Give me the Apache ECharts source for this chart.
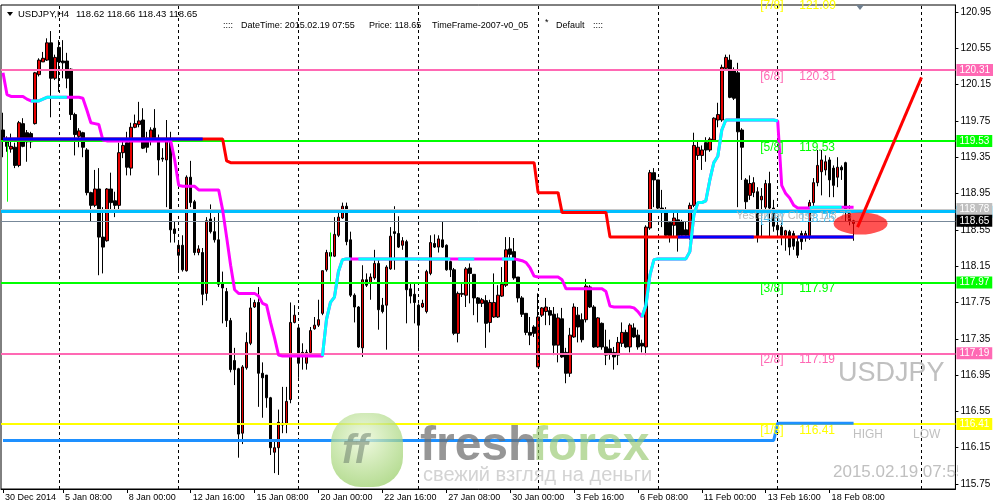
<!DOCTYPE html>
<html><head><meta charset="utf-8">
<script src="https://cdn.jsdelivr.net/npm/echarts@6/dist/echarts.min.js"></script>
<style>html,body{margin:0;padding:0;background:#fff}#c{width:994px;height:503px}</style>
</head><body><div id="c"></div>
<script>
// ---------------- DATA ----------------
const opens = [119.65,119.54,119.44,119.46,119.26,119.72,119.62,119.61,119.72,120.26,
120.40,120.42,120.61,120.22,120.56,120.41,120.41,120.32,119.82,119.58,
119.62,119.43,118.96,118.82,119.00,118.47,118.43,119.00,118.87,118.82,
119.40,119.51,119.23,119.68,119.71,119.76,119.56,119.54,119.67,119.56,
119.34,119.32,119.52,118.56,118.27,118.38,118.10,119.13,118.86,118.30,
118.30,117.85,118.67,118.53,118.44,117.97,117.87,117.55,117.11,117.02,
116.31,117.03,117.30,117.70,117.75,116.97,116.95,116.70,116.10,116.15,
116.40,116.41,116.68,117.53,117.47,117.20,117.08,117.20,117.46,117.50,
117.63,118.11,118.30,118.26,118.49,118.68,118.81,118.44,117.83,117.70,
117.25,118.00,117.97,118.02,118.18,117.72,117.72,118.12,118.53,118.51,
118.38,118.42,117.90,117.84,117.72,117.70,117.65,118.07,118.40,118.36,
118.44,118.38,118.20,118.11,117.41,117.84,117.83,118.13,118.06,117.80,
117.74,117.77,117.53,117.59,117.59,117.82,117.94,118.34,118.31,118.03,
117.80,117.63,117.42,117.48,117.04,117.61,117.65,117.66,117.62,117.28,
117.57,117.20,116.97,117.37,117.61,117.56,117.56,117.92,117.70,117.26,
117.52,117.26,117.24,117.20,117.17,117.30,117.42,117.26,117.47,117.39,
117.30,117.26,118.57,119.18,119.10,118.79,118.77,118.63,118.60,118.66,
118.64,118.55,118.47,118.82,119.37,119.37,119.51,119.43,119.54,119.76,
119.76,120.33,120.42,120.31,120.28,119.65,119.10,118.93,118.96,118.97,
118.88,118.80,119.06,118.79,118.60,118.58,118.49,118.53,118.51,118.42,
118.51,118.47,118.47,118.85,119.07,119.19,119.21,119.32,119.23,119.13,
119.24,119.29,118.77,118.62];
const closes = [119.54,119.47,119.47,119.26,119.73,119.47,119.52,119.52,120.28,120.42,
120.44,120.61,120.22,120.45,120.40,120.39,120.22,119.82,119.60,119.64,
119.46,118.96,118.82,119.00,118.47,118.36,119.00,118.85,118.82,119.40,
119.48,119.24,119.68,119.72,119.75,119.45,119.46,119.65,119.56,119.32,
119.33,119.52,118.55,118.51,118.38,118.11,119.13,118.85,118.30,118.34,
117.84,118.65,118.53,118.44,117.95,117.91,117.55,117.01,117.01,116.30,
117.04,117.31,117.69,117.75,116.97,116.92,116.70,116.15,116.15,116.43,
116.42,116.66,117.53,117.61,117.08,117.17,117.20,117.44,117.50,117.56,
118.10,118.30,118.26,118.50,118.69,118.81,118.42,117.83,117.70,117.26,
118.00,117.94,118.03,118.18,117.67,117.65,118.14,118.48,118.51,118.36,
118.43,117.89,117.82,117.75,117.50,117.74,118.09,118.41,118.36,118.45,
118.36,118.11,118.11,117.41,117.85,117.85,118.12,118.07,117.80,117.74,
117.78,117.52,117.75,117.75,117.83,117.95,118.33,118.28,118.02,117.80,
117.62,117.42,117.39,117.41,117.59,117.69,117.70,117.61,117.28,117.58,
117.15,116.97,117.39,117.70,117.48,117.34,117.93,117.70,117.26,117.58,
117.26,117.17,117.19,117.15,117.31,117.42,117.26,117.50,117.37,117.26,
117.27,118.58,119.18,119.10,118.79,118.74,118.49,118.47,118.68,118.47,
118.49,118.49,118.82,119.48,119.46,119.43,119.43,119.55,119.78,119.82,
120.34,120.45,120.01,120.00,119.63,119.46,118.86,119.06,119.07,118.47,
118.92,119.06,118.79,118.59,118.55,118.49,118.54,118.36,118.37,118.27,
118.42,118.51,118.85,119.07,119.26,119.32,119.30,119.10,119.04,119.24,
119.21,118.77,118.65,118.65];
const lows = [119.35,119.41,119.40,119.23,119.24,119.46,119.30,119.45,119.71,120.24,
120.40,120.41,119.79,120.20,120.07,120.22,120.11,119.76,119.37,119.46,
119.35,118.93,118.64,118.80,118.05,118.07,118.42,118.75,118.69,118.77,
119.34,119.15,119.15,119.67,119.68,119.44,119.40,119.48,119.54,119.15,
119.30,118.80,118.41,118.41,118.09,118.09,118.09,118.80,118.27,118.27,
117.72,117.77,118.51,118.41,117.92,117.52,117.48,116.98,116.84,116.04,
116.19,117.01,117.28,117.69,116.60,116.48,116.59,116.07,115.87,115.85,
116.31,116.31,116.64,117.52,116.92,117.01,117.01,117.17,117.45,117.48,
117.61,118.09,118.20,118.25,118.47,118.67,118.38,117.81,117.53,117.25,
117.15,117.92,117.78,118.00,117.45,117.63,117.23,118.11,118.11,118.35,
118.33,117.52,117.74,117.52,117.25,117.69,117.63,118.05,118.35,118.30,
118.35,118.10,118.03,117.39,117.31,117.81,117.70,117.74,117.61,117.53,
117.70,117.25,117.42,117.58,117.58,117.81,117.92,118.24,118.00,117.75,
117.59,117.39,117.28,117.37,117.04,117.59,117.50,117.50,117.17,117.09,
117.14,116.86,116.93,117.36,117.31,117.31,117.53,117.69,117.25,117.25,
117.23,117.06,117.12,117.01,117.06,117.26,117.25,117.20,117.36,117.23,
117.20,117.17,118.55,118.80,118.77,118.58,118.47,118.41,118.46,118.31,
118.47,118.47,118.44,118.80,119.32,119.21,119.30,119.41,119.52,119.68,
119.74,120.31,120.00,119.98,118.80,119.10,118.75,118.88,118.91,118.41,
118.47,118.77,118.47,118.53,118.49,118.38,118.32,118.27,118.33,118.24,
118.33,118.42,118.44,118.80,119.03,118.93,119.15,118.91,118.91,119.02,
119.10,118.64,118.60,118.43];
const highs = [119.84,119.58,119.61,119.51,119.75,119.78,119.65,119.63,120.29,120.44,
120.51,120.66,120.74,120.48,120.64,120.64,120.50,120.33,119.84,119.67,
119.63,119.45,118.97,119.21,119.23,118.80,119.01,119.18,118.97,119.51,
119.56,119.63,119.73,119.82,119.96,119.89,119.63,119.68,119.88,119.60,
119.45,119.76,119.63,118.64,118.42,118.49,119.15,119.31,118.88,118.38,
118.35,118.69,118.83,118.69,118.74,118.09,117.91,117.58,117.25,117.03,
117.06,117.42,117.80,117.78,117.92,117.09,116.95,116.71,116.24,116.57,
116.82,116.82,117.75,117.72,117.48,117.30,117.23,117.48,117.59,117.78,
118.10,118.33,118.40,118.69,118.74,118.85,118.85,118.53,117.85,117.71,
118.16,118.07,118.07,118.33,118.22,117.80,118.16,118.58,118.81,118.70,
118.47,118.44,117.97,117.97,117.74,117.78,118.11,118.49,118.50,118.49,
118.64,118.39,118.21,118.13,117.87,117.97,118.14,118.18,118.06,117.81,
117.80,117.83,117.78,118.07,117.94,118.14,118.47,118.47,118.46,118.03,
117.82,117.63,117.59,117.50,117.85,117.70,117.80,117.70,117.70,117.63,
117.69,117.25,117.47,117.74,117.70,117.63,118.01,117.94,117.72,117.59,
117.53,117.45,117.34,117.26,117.37,117.53,117.45,117.52,117.52,117.45,
117.34,118.60,119.21,119.23,119.10,118.99,118.80,118.64,118.74,118.74,
118.66,118.64,118.85,119.62,119.54,119.48,119.57,119.57,119.79,119.95,
120.37,120.48,120.48,120.34,120.39,119.67,119.12,119.15,119.13,119.02,
119.01,119.10,119.19,118.88,118.69,118.63,118.55,118.55,118.54,118.47,
118.54,118.54,118.88,119.12,119.43,119.43,119.37,119.35,119.26,119.35,
119.26,119.30,118.82,118.66];
// magenta/cyan trend line, one value per bar
const trendValues = [
120.28,120.04,120.02,120.02,120.02,120.02,119.99,119.97,119.97,119.97,
119.99,120.01,120.01,120.01,120.01,120.01,120.01,120.01,120.01,120.01,
120.00,119.87,119.73,119.72,119.71,119.54,119.53,119.53,119.53,119.53,
119.53,119.53,119.53,119.53,119.53,119.53,119.53,119.53,119.53,119.53,
119.53,119.53,119.53,119.32,119.04,119.03,119.03,119.03,119.03,118.99,
118.99,118.99,118.99,118.99,118.99,118.77,118.47,118.16,117.89,117.85,
117.85,117.85,117.85,117.85,117.82,117.74,117.72,117.53,117.36,117.17,
117.16,117.16,117.16,117.16,117.16,117.16,117.16,117.16,117.16,117.16,
117.16,117.56,117.75,117.81,118.09,118.22,118.23,118.23,118.23,118.23,
118.23,118.23,118.23,118.23,118.23,118.23,118.23,118.23,118.23,118.23,
118.23,118.23,118.23,118.23,118.23,118.23,118.23,118.23,118.23,118.23,
118.23,118.23,118.23,118.23,118.23,118.23,118.23,118.23,118.23,118.23,
118.23,118.23,118.23,118.23,118.23,118.23,118.23,118.23,118.23,118.22,
118.21,118.19,118.13,118.04,118.03,118.03,118.03,118.03,118.03,118.03,
118.00,117.90,117.90,117.90,117.90,117.90,117.90,117.90,117.90,117.90,
117.90,117.87,117.71,117.70,117.70,117.70,117.70,117.70,117.69,117.65,
117.59,117.72,118.05,118.22,118.23,118.23,118.23,118.23,118.23,118.23,
118.23,118.23,118.31,118.71,118.85,118.85,118.87,119.10,119.29,119.36,
119.65,119.76,119.76,119.76,119.76,119.76,119.76,119.76,119.76,119.76,
119.76,119.76,119.76,119.76,119.75,119.04,118.95,118.90,118.82,118.79,
118.79,118.79,118.79,118.80,118.80,118.80,118.80,118.80,118.80,118.80,
118.80,118.80,118.80,118.80];
const cyanRanges = [[7,16],[80,87],[89,112],[114,118],[125,128],[160,194],[202,210]];
// red / blue stepped trail: [bar, price] break points
const trailPoints = [[0,119.55],[55,119.55],[56,119.31],[57,119.29],[133,119.29],[134,118.96],[139,118.96],[140,118.74],[151,118.74],[152,118.47],[213,118.47]];
const trailBlue = [[0,50,119.55],[169,188,118.47],[199,213,118.47]];
// dodger-blue low line
const lowPoints = [[0,116.23],[193,116.23],[194,116.42],[213,116.42]];
// thin lime signal segments [bar, top, bottom]
const signalSegs = [[1,119.51,118.86],[82,118.52,117.98]];
// Murrey math levels
const murreyLabels = ['[7/8]','[6/8]','[5/8]','[4/8]','[3/8]','[2/8]','[1/8]'];
const murreyValues = [121.09,120.31,119.53,118.75,117.97,117.19,116.41];
const yesterdayClose = 118.78;
const bidPrice = 118.65;
// user arrow
const arrowPoints = [[214,118.58],[230,120.23]];
const markerPoint = [214,118.62];
// period separators (bar index)
const separators = [14,44,74,104,134,164,194,230];
// axis ticks
const xTickIndex = [0,15,31,47,63,79,95,111,127,143,159,175,191,207];
const xTickText = ['30 Dec 2014','5 Jan 08:00','8 Jan 00:00','12 Jan 16:00','15 Jan 08:00','20 Jan 00:00','22 Jan 16:00','27 Jan 08:00','30 Jan 00:00','3 Feb 16:00','6 Feb 08:00','11 Feb 00:00','13 Feb 16:00','18 Feb 08:00'];
const yTicks = [115.75,116.15,116.55,116.95,117.35,117.75,118.15,118.55,118.95,119.35,119.75,120.15,120.55,120.95];
const barSlots = 239;

// ---------------- CHART ----------------
const F = 'Liberation Sans';
const cats = Array.from({length: barSlots}, (_, i) => String(i));
const xLabelMap = {}; xTickIndex.forEach((k, j) => xLabelMap[k] = xTickText[j]);
const candles = opens.map((o, i) => [o, closes[i], lows[i], highs[i]]);
const last = candles.length - 1;

const murreyColors = ['#ffff00','#ff69b4','#00ff00','#4cc4f4','#00ff00','#ff69b4','#ffff00'];
const cyanData = trendValues.map((v, i) => cyanRanges.some(r => i >= r[0] && i <= r[1]) ? v : null);

function levelLine(v, color, width, bg) {
  return {
    yAxis: v,
    lineStyle: {color: color, width: width, type: 'solid'},
    label: {show: true, position: 'end', distance: 1, formatter: p => Number(p.value).toFixed(2),
      backgroundColor: bg, color: '#fff', fontFamily: F, fontSize: 10, lineHeight: 12, padding: [0, 3, 0, 3]}
  };
}

const series = [
  { // separators
    type: 'line', data: [], z: 1, silent: true,
    markLine: {silent: true, symbol: 'none', animation: false, label: {show: false},
      lineStyle: {color: '#000', width: 1, type: [3, 3]},
      data: separators.map(i => ({xAxis: i}))}
  },
  {
    type: 'candlestick', data: candles, barWidth: 3, z: 3, silent: true, large: false,
    itemStyle: {color: '#e60000', color0: '#000', borderColor: '#000', borderColor0: '#000', borderWidth: 1}
  },
  { // main level lines
    type: 'line', data: [], z: 4, silent: true,
    markLine: {silent: true, symbol: 'none', animation: false, precision: 2,
      data: [
        levelLine(murreyValues[1], '#ff69b4', 2, '#ff69b4'),
        levelLine(murreyValues[2], '#00ff00', 2, '#00ff00'),
        levelLine(murreyValues[4], '#00ff00', 2, '#00ff00'),
        levelLine(murreyValues[5], '#ff69b4', 2, '#ff69b4'),
        levelLine(murreyValues[6], '#ffff00', 2, '#ffff00'),
        levelLine(murreyValues[3], '#00bfff', 3, '#00bfff')
      ]}
  },
  { // yesterday close + bid
    type: 'line', data: [], z: 5, silent: true,
    markLine: {silent: true, symbol: 'none', animation: false, precision: 2,
      data: [
        levelLine(yesterdayClose, '#c8c8c8', 1, '#c0c0c0'),
        levelLine(bidPrice, '#778899', 1, '#000000')
      ]}
  },
  { // signal segments
    type: 'line', data: [], z: 5, silent: true,
    markLine: {silent: true, symbol: 'none', animation: false, label: {show: false},
      lineStyle: {color: '#00ff00', width: 1, type: 'solid'},
      data: signalSegs.map(s => [{coord: [s[0], s[1]]}, {coord: [s[0], s[2]]}])}
  },
  {type: 'line', data: lowPoints, z: 6, symbol: 'none', silent: true, lineStyle: {color: '#1e90ff', width: 3}},
  {type: 'line', data: trailPoints, z: 6, symbol: 'none', silent: true, lineStyle: {color: '#ff0000', width: 3}},
  ...trailBlue.map(b => ({type: 'line', data: [[b[0], b[2]], [b[1], b[2]]], z: 7, symbol: 'none', silent: true, lineStyle: {color: '#0000ff', width: 3}})),
  {type: 'line', data: trendValues, z: 6, symbol: 'none', silent: true, lineStyle: {color: '#ff00ff', width: 3}},
  {type: 'line', data: cyanData, z: 7, symbol: 'none', silent: true, connectNulls: false, lineStyle: {color: '#00ffff', width: 3}},
  { // murrey texts
    type: 'scatter', z: 8, clip: false, silent: true, symbolSize: 1, itemStyle: {color: 'rgba(0,0,0,0)', opacity: 1},
    data: murreyValues.map((v, k) => ({value: [190, v], label: {color: murreyColors[k]}})),
    label: {show: true, position: [-1, 1], align: 'left', verticalAlign: 'top', fontFamily: F, fontSize: 12,
      formatter: p => '{a|' + murreyLabels[p.dataIndex] + '}{b|' + p.value[1].toFixed(2) + '}',
      rich: {a: {width: 39, fontFamily: F, fontSize: 12}, b: {fontFamily: F, fontSize: 12}}}
  },
  { // yesterday close text
    type: 'scatter', z: 8, clip: false, silent: true, symbolSize: 1, itemStyle: {color: 'rgba(0,0,0,0)', opacity: 1},
    data: [[184, yesterdayClose]],
    label: {show: true, position: [-1, 2], align: 'left', verticalAlign: 'top', fontFamily: F, fontSize: 11,
      color: 'rgba(175,175,175,0.85)', formatter: p => 'Yesterday Close ' + p.value[1].toFixed(2)}
  },
  { // ellipse marker
    type: 'scatter', z: 9, clip: false, silent: true, symbol: 'circle', symbolSize: [54, 22], symbolOffset: [3, 0],
    itemStyle: {color: 'rgba(255,0,0,0.68)', opacity: 1}, data: [markerPoint]
  },
  {type: 'line', data: arrowPoints, z: 10, symbol: 'none', silent: true, lineStyle: {color: '#ff0000', width: 3}}
];

const txt = (x, y, t, size, color, extra) => Object.assign({type: 'text', x: x, y: y, silent: true, z: 50,
  style: Object.assign({text: t, fontFamily: F, fontSize: size, fill: color, align: 'left', verticalAlign: 'middle'}, extra || {})});

const o = candles[last];
const graphic = [
  {type: 'polygon', silent: true, z: 50, shape: {points: [[7, 12], [13, 12], [10, 16]]}, style: {fill: '#000'}},
  txt(18, 14, 'USDJPY,H4', 9.5, '#000'),
  txt(76, 14, [o[0], o[3], o[2], o[1]].map(v => v.toFixed(2)).join(' '), 9.5, '#000'),
  txt(223, 26, '::::', 9, '#000'),
  txt(241, 26, 'DateTime: 2015.02.19 07:55', 9, '#000'),
  txt(369, 26, 'Price: ' + o[1].toFixed(2), 9, '#000'),
  txt(432, 26, 'TimeFrame-2007-v0_05', 9, '#000'),
  txt(545, 23, '*', 9, '#000'),
  txt(556, 26, 'Default', 9, '#000'),
  txt(593, 26, '::::', 9, '#000'),
  // watermark texts
  txt(838, 374, 'USDJPY', 27, '#c0c0c0'),
  txt(853, 435, 'HIGH', 12, '#c0c0c0'),
  txt(913, 435, 'LOW', 12, '#c0c0c0'),
  txt(833, 472, '2015.02.19 07:55', 17, '#c0c0c0'),
  {type: 'rect', silent: true, z: 51, shape: {x: 958, y: 458, width: 36, height: 21}, style: {fill: '#fff'}},
  // shift marker
  {type: 'polygon', silent: true, z: 50, shape: {points: [[856, 5], [864, 5], [860, 10]]}, style: {fill: '#708090'}},
  // FreshForex logo
  {type: 'rect', silent: true, z: 40, shape: {x: 331, y: 413, width: 72, height: 74, r: 30},
    style: {fill: {type: 'radial', x: 0.45, y: 0.35, r: 0.7, colorStops: [{offset: 0, color: 'rgba(235,248,215,0.75)'}, {offset: 1, color: 'rgba(150,205,100,0.7)'}]}}},
  txt(342, 452, 'ff', 40, 'rgba(110,130,110,0.55)', {fontWeight: 'bold', fontStyle: 'italic'}),
  txt(420, 447, 'fresh', 48, 'rgba(110,110,110,0.72)', {fontWeight: 'bold'}),
  txt(532, 447, 'forex', 48, 'rgba(150,200,110,0.65)', {fontWeight: 'bold'}),
  txt(423, 475, 'свежий взгляд на деньги', 20, 'rgba(200,200,200,0.8)')
];

const option = {
  animation: false,
  backgroundColor: '#fff',
  grid: {left: 1, right: 37, top: 5, bottom: 14, show: true, borderColor: '#000', borderWidth: 1, containLabel: false},
  xAxis: {
    type: 'category', data: cats, boundaryGap: true,
    axisLine: {show: true, lineStyle: {color: '#000', width: 1}},
    axisTick: {show: true, alignWithLabel: true, length: 4, interval: (i) => xLabelMap[i] !== undefined, lineStyle: {color: '#000'}},
    axisLabel: {interval: (i) => xLabelMap[i] !== undefined, formatter: (v) => xLabelMap[+v] || '',
      align: 'left', padding: [0, 0, 0, 2], margin: 4, fontFamily: F, fontSize: 9, color: '#000'},
    splitLine: {show: false}
  },
  yAxis: {
    type: 'value', position: 'right', min: 115.695, max: 121.027, scale: true,
    axisLine: {show: true, lineStyle: {color: '#000', width: 1}},
    axisTick: {show: true, length: 3, customValues: yTicks, lineStyle: {color: '#000'}},
    axisLabel: {customValues: yTicks, formatter: (v) => Number(v).toFixed(2), margin: 5, fontFamily: F, fontSize: 10, color: '#000'},
    splitLine: {show: false}
  },
  series: series,
  graphic: graphic
};
const chart = echarts.init(document.getElementById('c'));
chart.setOption(option);
</script></body></html>
